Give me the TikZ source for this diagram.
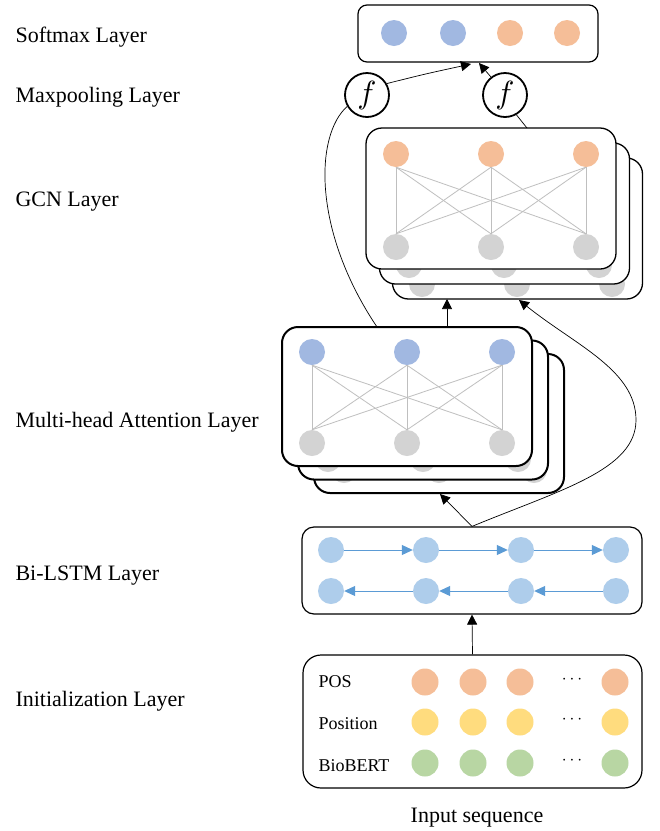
\documentclass[tikz,border=0pt]{standalone}
\usepackage{fontspec}
\setmainfont{Liberation Serif}
\usetikzlibrary{arrows.meta}
\definecolor{cblue}{HTML}{A1B8E1}
\definecolor{corange}{HTML}{F5BE98}
\definecolor{cgray}{HTML}{D3D3D3}
\definecolor{clstm}{HTML}{AECDEB}
\definecolor{cyellow}{HTML}{FFDC7E}
\definecolor{cgreen}{HTML}{B8D6A3}
\definecolor{carrow}{HTML}{5B9BD5}
\definecolor{cline}{HTML}{BFBFBF}
\begin{document}
\begin{tikzpicture}[x=1pt,y=-1pt,
  dot/.style={circle,minimum size=26pt,inner sep=0pt,draw=none},
  sbox/.style={draw,rounded corners=9pt,fill=white,line width=1.2pt,minimum width=240pt,minimum height=57pt,inner sep=0pt},
  gbox/.style={draw,rounded corners=16pt,fill=white,line width=1.3pt,minimum width=250pt,minimum height=141pt,inner sep=0pt},
  abox/.style={draw,rounded corners=16pt,fill=white,line width=2pt,minimum width=250pt,minimum height=139pt,inner sep=0pt},
  lbox/.style={draw,rounded corners=12pt,fill=white,line width=1.2pt,minimum width=340pt,minimum height=87pt,inner sep=0pt},
  ibox/.style={draw,rounded corners=18pt,fill=white,line width=1.2pt,minimum width=339pt,minimum height=133pt,inner sep=0pt},
  fnode/.style={circle,draw,line width=1.8pt,minimum size=44pt,inner sep=0pt,fill=white},
  lab/.style={anchor=base west,font=\fontsize{22}{26}\selectfont},
  slab/.style={anchor=base west,font=\fontsize{18}{22}\selectfont},
  tri/.style={-{Triangle[length=10pt,width=10pt]},line width=0.7pt},
  btri/.style={-{Triangle[length=11pt,width=10pt]},line width=1pt,draw=carrow!85!gray,color=carrow},
  conn/.style={draw=cline,line width=0.8pt}
]
\useasboundingbox (0,0) rectangle (660,831);

% left labels
\node[lab] (l1) at (12,42) {Softmax Layer};
\node[lab] (l2) at (12,102) {Maxpooling Layer};
\node[lab] (l3) at (12,206) {GCN Layer};
\node[lab] (l4) at (12,427) {Multi-head Attention Layer};
\node[lab] (l5) at (12,580) {Bi-LSTM Layer};
\node[lab] (l6) at (12,706) {Initialization Layer};

% softmax
\node[sbox] (sm) at (478,33.5) {};
\foreach \x/\c [count=\i] in {394/cblue,453/cblue,510/corange,567/corange}
  \node[dot,fill=\c] (s\i) at (\x,33) {};

% GCN stack
\node[gbox] (g3) at (517.5,228.5) {};
\foreach \x [count=\i] in {422,517,612}
  \node[dot,fill=cgray] (g3b\i) at (\x,284) {};
\node[gbox] (g2) at (504.5,213.5) {};
\foreach \x [count=\i] in {409,504,599}
  \node[dot,fill=cgray] (g2b\i) at (\x,265) {};
\node[gbox] (g1) at (491,198.5) {};
\foreach \x [count=\i] in {396,491,586}{
  \node[dot,fill=corange] (gt\i) at (\x,154) {};
  \node[dot,fill=cgray] (gb\i) at (\x,247) {};
}
\foreach \i in {1,2,3}{\foreach \j in {1,2,3}{\draw[conn] (gt\i.south) -- (gb\j.north);}}

% attention stack
\node[abox] (a3) at (439,423.5) {};
\foreach \x [count=\i] in {344,439,534}
  \node[dot,fill=cgray] (a3b\i) at (\x,470) {};
\node[abox] (a2) at (423,410) {};
\foreach \x [count=\i] in {328,423,518}
  \node[dot,fill=cgray] (a2b\i) at (\x,459) {};
\node[abox] (a1) at (407,396.5) {};
\foreach \x [count=\i] in {312,407,502}{
  \node[dot,fill=cblue] (at\i) at (\x,352) {};
  \node[dot,fill=cgray] (ab\i) at (\x,443) {};
}
\foreach \i in {1,2,3}{\foreach \j in {1,2,3}{\draw[conn] (at\i.south) -- (ab\j.north);}}

% Bi-LSTM
\node[lbox] (lstm) at (472,570.5) {};
\foreach \x [count=\i] in {331,426,521,616}{
  \node[dot,fill=clstm] (lt\i) at (\x,550) {};
  \node[dot,fill=clstm] (lb\i) at (\x,591) {};
}
\foreach \i/\j in {1/2,2/3,3/4}{
  \draw[btri] (lt\i.east) -- (lt\j.west);
  \draw[btri] (lb\j.west) -- (lb\i.east);
}

% Initialization
\node[ibox] (init) at (472.5,721.5) {};
\node[slab] (pos) at (315,687) {POS};
\node[slab] (posi) at (315,729) {Position};
\node[slab] (bert) at (315,771) {BioBERT};
\foreach \y/\c/\r in {682/corange/1,722/cyellow/2,763/cgreen/3}{
  \foreach \x [count=\i] in {425,473,520,615}
    \node[dot,fill=\c,minimum size=27pt] (e\r\i) at (\x,\y) {};
  \node[font=\fontsize{18}{22}\selectfont] (d\r) at (572,\y-2) {$\cdots$};
}
\node[anchor=base,font=\fontsize{22}{26}\selectfont] (inseq) at (477,822) {Input sequence};

% f nodes
\node[fnode] (f1) at (367,95) {\scalebox{3.2}{$f$}};
\node[fnode] (f2) at (505,95) {\scalebox{3.2}{$f$}};

% coordinates
\coordinate (smA) at (471,64);
\coordinate (smB) at (479,63);
\coordinate (attL) at (377,327);
\coordinate (a2g) at (447,327);
\coordinate (g1top) at (527,128);
\coordinate (a3tip) at (440,494);
\coordinate (g3tip) at (519,300);
\coordinate (gtip) at (447,299);

% connectors
\draw[tri] (f1.30) .. controls (425,74) .. (smA);
\draw[tri] (f2.128) -- (smB);
\draw[line width=0.7pt] (f1.210) .. controls (315,135) and (312,230) .. (attL);
\draw[line width=0.7pt] (f2.300) -- (g1top);
\draw[tri] (a2g) -- (gtip);
\draw[tri] (lstm.north) -- (a3tip);
\draw[tri] (lstm.north) .. controls (560,490) and (636,470) .. (636,420) .. controls (636,370) and (575,345) .. (g3tip);
\draw[tri] (init.north) -- (lstm.south);
\end{tikzpicture}
\end{document}
